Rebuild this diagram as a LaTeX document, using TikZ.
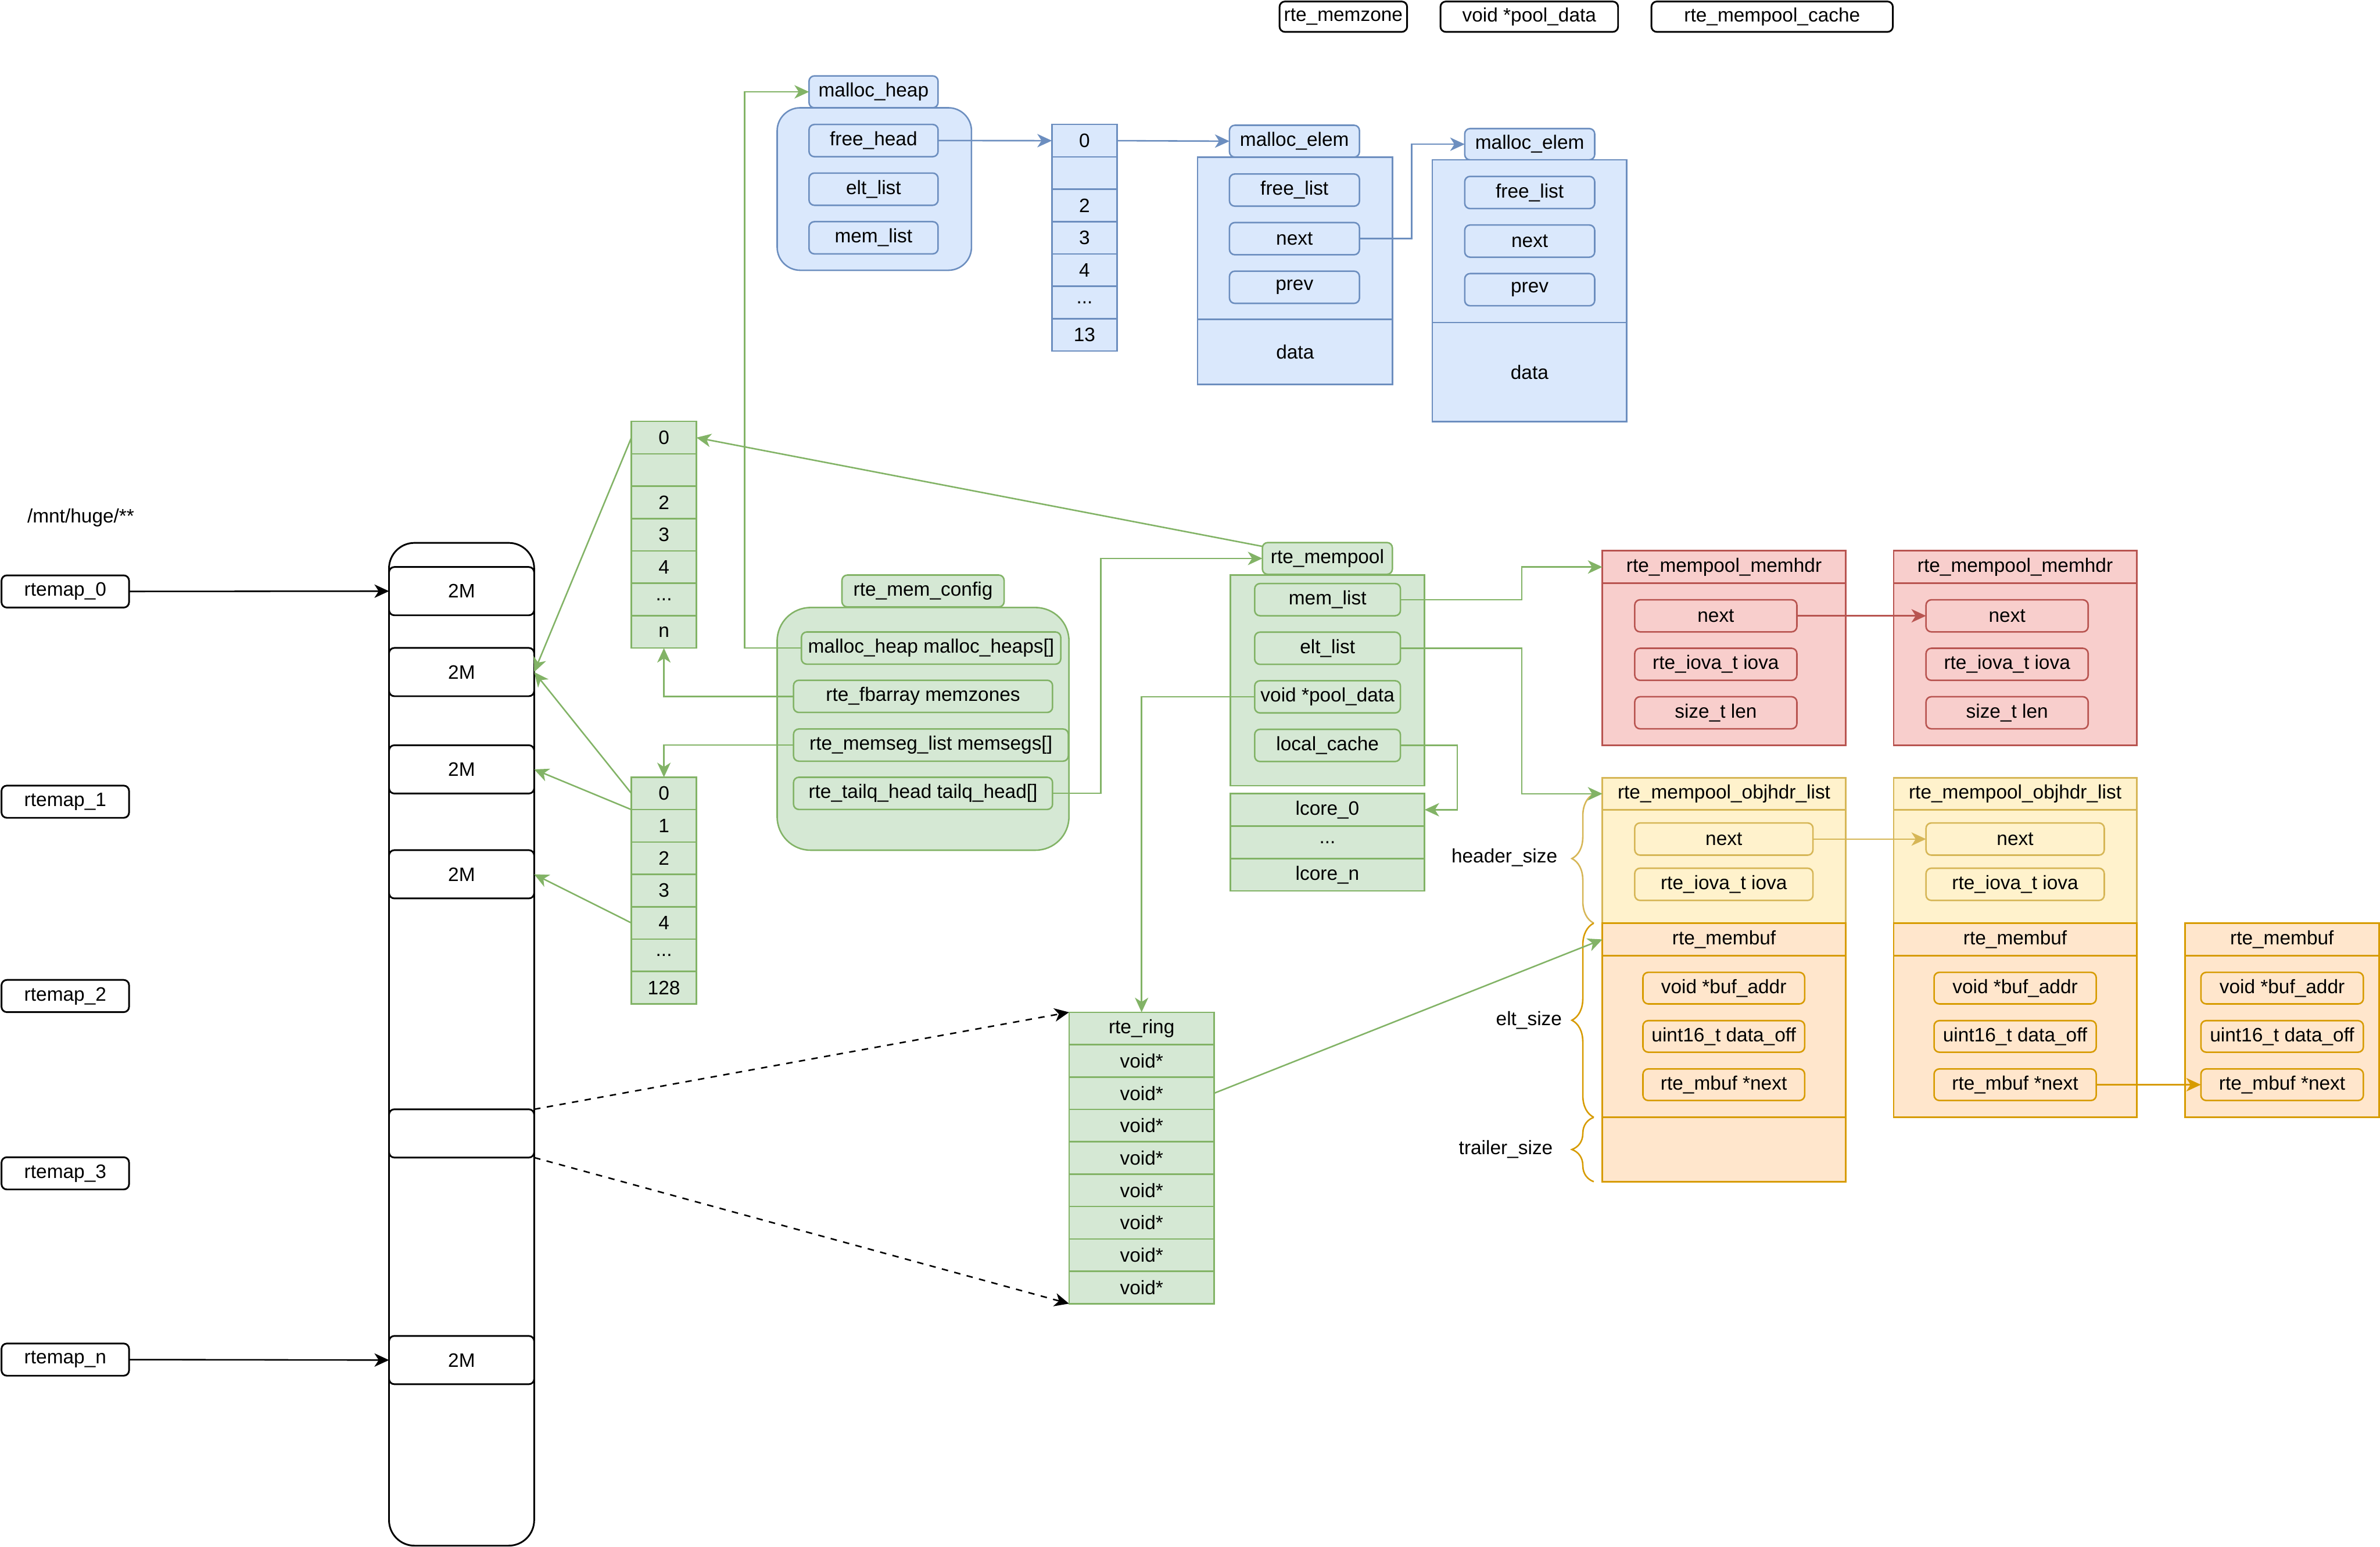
\documentclass[tikz,border=0pt]{standalone}
\usepackage{fontspec}
\setmainfont{Liberation Sans}
\usetikzlibrary{arrows.meta,positioning,calc,decorations.pathreplacing}
\definecolor{HeapFill}{HTML}{DAE8FC}
\definecolor{HeapLine}{HTML}{6C8EBF}
\definecolor{CfgFill}{HTML}{D5E8D4}
\definecolor{CfgLine}{HTML}{82B366}
\definecolor{HdrFill}{HTML}{F8CECC}
\definecolor{HdrLine}{HTML}{B85450}
\definecolor{ObjFill}{HTML}{FFF2CC}
\definecolor{ObjLine}{HTML}{D6B656}
\definecolor{BufFill}{HTML}{FFE6CC}
\definecolor{BufLine}{HTML}{D79B00}
\tikzset{
  lbl/.style={inner sep=0pt,outer sep=0pt,align=center,font=\fontsize{9.1}{11}\selectfont},
  fld/.style={lbl,anchor=north west,rounded corners=2.5pt,line width=.7pt,minimum height=.53cm},
  slot/.style={lbl,draw,line width=.7pt,minimum height=.533cm},
  shell/.style={lbl,anchor=north west,line width=.7pt},
  blu/.style={draw=HeapLine,fill=HeapFill},
  grn/.style={draw=CfgLine,fill=CfgFill},
  pnk/.style={draw=HdrLine,fill=HdrFill},
  ylw/.style={draw=ObjLine,fill=ObjFill},
  org/.style={draw=BufLine,fill=BufFill},
  blk/.style={draw=black,fill=white,line width=.8pt},
  ptr/.style={-{Stealth[length=2.4mm,width=2.2mm,inset=.7mm]},line width=.7pt},
  sizebrace/.style={decorate,decoration={brace,amplitude=.36cm},line width=.7pt}
}
\begin{document}
\begin{tikzpicture}[x=.025cm,y=-.025cm]
\useasboundingbox (0,0) rectangle (1568,1019);

\node[fld,blk,minimum width=2.1cm,minimum height=.5cm] (kzone) at (843,1) {rte\_memzone};
\node[fld,blk,minimum width=2.925cm,minimum height=.5cm] (kpool) at (949,1) {void *pool\_data};
\node[fld,blk,minimum width=3.975cm,minimum height=.5cm] (kcache) at (1088,1) {rte\_mempool\_cache};

\node[fld,blu,minimum width=2.125cm,minimum height=.525cm] (heap) at (533,50) {malloc\_heap};
\node[shell,blu,rounded corners=.38cm,minimum width=3.2cm,minimum height=2.675cm] (heapbox) at (512,71) {};
\node[fld,blu,minimum width=2.125cm] (freehead) at (533,82) {free\_head};
\node[fld,blu,minimum width=2.125cm,below=.27cm of freehead] (eltlist) {elt\_list};
\node[fld,blu,minimum width=2.125cm,below=.27cm of eltlist] (memlist) {mem\_list};

\node[slot,blu,anchor=north west,minimum width=1.075cm] (fl0) at (693,82) {0};
\node[slot,blu,minimum width=1.075cm,below=0pt of fl0] (fl1) {};
\node[slot,blu,minimum width=1.075cm,below=0pt of fl1] (fl2) {2};
\node[slot,blu,minimum width=1.075cm,below=0pt of fl2] (fl3) {3};
\node[slot,blu,minimum width=1.075cm,below=0pt of fl3] (fl4) {4};
\node[slot,blu,minimum width=1.075cm,below=0pt of fl4] (fl5) {...};
\node[slot,blu,minimum width=1.075cm,below=0pt of fl5] (fl6) {13};

\node[fld,blu,minimum width=2.14cm,minimum height=.525cm] (elemA) at (810,82.5) {malloc\_elem};
\node[shell,blu,minimum width=3.21cm,minimum height=2.67cm] (elemAhdr) at (789,103.5) {};
\node[shell,blu,minimum width=3.21cm,minimum height=1.07cm,below=0pt of elemAhdr] (elemAdata) {data};
\node[fld,blu,minimum width=2.14cm] (elemAfree) at (810,114.6) {free\_list};
\node[fld,blu,minimum width=2.14cm,below=.27cm of elemAfree] (elemAnext) {next};
\node[fld,blu,minimum width=2.14cm,below=.27cm of elemAnext] (elemAprev) {prev};

\node[fld,blu,minimum width=2.14cm,minimum height=.515cm] (elemB) at (965,84.7) {malloc\_elem};
\node[shell,blu,minimum width=3.2cm,minimum height=2.68cm] (elemBhdr) at (943.7,105.3) {};
\node[shell,blu,minimum width=3.2cm,minimum height=1.63cm,below=0pt of elemBhdr] (elemBdata) {data};
\node[fld,blu,minimum width=2.14cm] (elemBfree) at (965,116.2) {free\_list};
\node[fld,blu,minimum width=2.14cm,below=.27cm of elemBfree] (elemBnext) {next};
\node[fld,blu,minimum width=2.14cm,below=.27cm of elemBnext] (elemBprev) {prev};

\node[lbl,anchor=west] (hugedir) at (18,341) {/mnt/huge/**};
\node[fld,blk,minimum width=2.1cm] (map0) at (1,379) {rtemap\_0};
\node[fld,blk,minimum width=2.1cm] (map1) at (1,517.5) {rtemap\_1};
\node[fld,blk,minimum width=2.1cm] (map2) at (1,645.5) {rtemap\_2};
\node[fld,blk,minimum width=2.1cm] (map3) at (1,762.3) {rtemap\_3};
\node[fld,blk,minimum width=2.1cm] (mapn) at (1,885) {rtemap\_n};
\node[shell,blk,rounded corners=.42cm,minimum width=2.39cm,minimum height=16.51cm] (hugemem) at (256.3,357.6) {};
\node[fld,blk,minimum width=2.39cm,minimum height=.795cm] (pg0) at (256.3,373.5) {2M};
\node[fld,blk,minimum width=2.39cm,minimum height=.795cm] (pg1) at (256.3,426.8) {2M};
\node[fld,blk,minimum width=2.39cm,minimum height=.795cm] (pg2) at (256.3,490.9) {2M};
\node[fld,blk,minimum width=2.39cm,minimum height=.795cm] (pg3) at (256.3,560) {2M};
\node[fld,blk,minimum width=2.39cm,minimum height=.795cm] (pg4) at (256.3,730.7) {};
\node[fld,blk,minimum width=2.39cm,minimum height=.795cm] (pg5) at (256.3,880) {2M};

\node[slot,grn,anchor=north west,minimum width=1.07cm] (zn0) at (416,277.6) {0};
\node[slot,grn,minimum width=1.07cm,below=0pt of zn0] (zn1) {};
\node[slot,grn,minimum width=1.07cm,below=0pt of zn1] (zn2) {2};
\node[slot,grn,minimum width=1.07cm,below=0pt of zn2] (zn3) {3};
\node[slot,grn,minimum width=1.07cm,below=0pt of zn3] (zn4) {4};
\node[slot,grn,minimum width=1.07cm,below=0pt of zn4] (zn5) {...};
\node[slot,grn,minimum width=1.07cm,below=0pt of zn5] (zn6) {n};

\node[slot,grn,anchor=north west,minimum width=1.07cm] (sg0) at (416,512) {0};
\node[slot,grn,minimum width=1.07cm,below=0pt of sg0] (sg1) {1};
\node[slot,grn,minimum width=1.07cm,below=0pt of sg1] (sg2) {2};
\node[slot,grn,minimum width=1.07cm,below=0pt of sg2] (sg3) {3};
\node[slot,grn,minimum width=1.07cm,below=0pt of sg3] (sg4) {4};
\node[slot,grn,minimum width=1.07cm,below=0pt of sg4] (sg5) {...};
\node[slot,grn,minimum width=1.07cm,below=0pt of sg5] (sg6) {128};

\node[fld,grn,minimum width=2.67cm,minimum height=.525cm] (memcfg) at (554.7,378.8) {rte\_mem\_config};
\node[shell,grn,rounded corners=.55cm,minimum width=4.805cm,minimum height=3.995cm] (memcfgbox) at (512,400.2) {};
\node[fld,grn,minimum width=4.27cm] (heaps) at (528,416.3) {malloc\_heap malloc\_heaps[]};
\node[fld,grn,minimum width=4.265cm] (zones) at (522.8,448.1) {rte\_fbarray memzones};
\node[fld,grn,minimum width=4.525cm] (segs) at (522.8,480.2) {rte\_memseg\_list memsegs[]};
\node[fld,grn,minimum width=4.265cm] (tailq) at (522.8,512) {rte\_tailq\_head tailq\_head[]};

\node[fld,grn,minimum width=2.14cm,minimum height=.523cm] (mempool) at (831.7,357.4) {rte\_mempool};
\node[shell,grn,minimum width=3.2cm,minimum height=3.47cm] (mempoolbox) at (810.5,378.8) {};
\node[fld,grn,minimum width=2.4cm] (mpmem) at (826.6,384.4) {mem\_list};
\node[fld,grn,minimum width=2.4cm,below=.27cm of mpmem] (mpelt) {elt\_list};
\node[fld,grn,minimum width=2.4cm,below=.27cm of mpelt] (mpdata) {void *pool\_data};
\node[fld,grn,minimum width=2.4cm,below=.27cm of mpdata] (mpcache) {local\_cache};
\node[slot,grn,anchor=north west,minimum width=3.2cm,minimum height=.535cm] (lcore0) at (810.5,522.7) {lcore\_0};
\node[slot,grn,minimum width=3.2cm,minimum height=.535cm,below=0pt of lcore0] (lcoremid) {...};
\node[slot,grn,minimum width=3.2cm,minimum height=.535cm,below=0pt of lcoremid] (lcoren) {lcore\_n};

\node[slot,grn,anchor=north west,minimum width=2.39cm] (ring) at (704.3,666.8) {rte\_ring};
\node[slot,grn,minimum width=2.39cm,below=0pt of ring] (ring1) {void*};
\node[slot,grn,minimum width=2.39cm,below=0pt of ring1] (ring2) {void*};
\node[slot,grn,minimum width=2.39cm,below=0pt of ring2] (ring3) {void*};
\node[slot,grn,minimum width=2.39cm,below=0pt of ring3] (ring4) {void*};
\node[slot,grn,minimum width=2.39cm,below=0pt of ring4] (ring5) {void*};
\node[slot,grn,minimum width=2.39cm,below=0pt of ring5] (ring6) {void*};
\node[slot,grn,minimum width=2.39cm,below=0pt of ring6] (ring7) {void*};
\node[slot,grn,minimum width=2.39cm,below=0pt of ring7] (ring8) {void*};

\node[shell,pnk,minimum width=4.005cm,minimum height=.535cm] (memhdrA) at (1055.7,362.8) {rte\_mempool\_memhdr};
\node[shell,pnk,minimum width=4.005cm,minimum height=2.668cm,below=0pt of memhdrA] (memhdrAbody) {};
\node[fld,pnk,minimum width=2.67cm,minimum height=.528cm] (memhdrAnext) at (1077,395.1) {next};
\node[fld,pnk,minimum width=2.67cm,minimum height=.528cm,below=.27cm of memhdrAnext] (memhdrAiova) {rte\_iova\_t iova};
\node[fld,pnk,minimum width=2.67cm,minimum height=.528cm,below=.27cm of memhdrAiova] (memhdrAlen) {size\_t len};

\node[shell,pnk,minimum width=4.005cm,minimum height=.535cm] (memhdrB) at (1247.5,362.8) {rte\_mempool\_memhdr};
\node[shell,pnk,minimum width=4.005cm,minimum height=2.668cm,below=0pt of memhdrB] (memhdrBbody) {};
\node[fld,pnk,minimum width=2.67cm,minimum height=.528cm] (memhdrBnext) at (1268.9,395.1) {next};
\node[fld,pnk,minimum width=2.67cm,minimum height=.528cm,below=.27cm of memhdrBnext] (memhdrBiova) {rte\_iova\_t iova};
\node[fld,pnk,minimum width=2.67cm,minimum height=.528cm,below=.27cm of memhdrBiova] (memhdrBlen) {size\_t len};

\node[shell,ylw,minimum width=4.005cm,minimum height=.528cm] (objA) at (1055.7,512.3) {rte\_mempool\_objhdr\_list};
\node[shell,ylw,minimum width=4.005cm,minimum height=1.868cm,below=0pt of objA] (objAbody) {};
\node[fld,ylw,minimum width=2.935cm] (objAnext) at (1077,542.1) {next};
\node[fld,ylw,minimum width=2.935cm,below=.215cm of objAnext] (objAiova) {rte\_iova\_t iova};

\node[shell,ylw,minimum width=4.005cm,minimum height=.528cm] (objB) at (1247.5,512.3) {rte\_mempool\_objhdr\_list};
\node[shell,ylw,minimum width=4.005cm,minimum height=1.868cm,below=0pt of objB] (objBbody) {};
\node[fld,ylw,minimum width=2.935cm] (objBnext) at (1268.9,542.1) {next};
\node[fld,ylw,minimum width=2.935cm,below=.215cm of objBnext] (objBiova) {rte\_iova\_t iova};

\node[shell,org,minimum width=4.005cm,minimum height=.535cm] (bufA) at (1055.7,608.1) {rte\_membuf};
\node[shell,org,minimum width=4.005cm,minimum height=2.663cm,below=0pt of bufA] (bufAbody) {};
\node[shell,org,minimum width=4.005cm,minimum height=1.06cm,below=0pt of bufAbody] (bufAtail) {};
\node[fld,org,minimum width=2.663cm,minimum height=.52cm] (bufAaddr) at (1082.4,640.5) {void *buf\_addr};
\node[fld,org,minimum width=2.663cm,minimum height=.52cm,below=.275cm of bufAaddr] (bufAoff) {uint16\_t data\_off};
\node[fld,org,minimum width=2.663cm,minimum height=.52cm,below=.275cm of bufAoff] (bufAnext) {rte\_mbuf *next};

\node[shell,org,minimum width=4.005cm,minimum height=.535cm] (bufB) at (1247.5,608.1) {rte\_membuf};
\node[shell,org,minimum width=4.005cm,minimum height=2.663cm,below=0pt of bufB] (bufBbody) {};
\node[fld,org,minimum width=2.67cm,minimum height=.52cm] (bufBaddr) at (1274.2,640.5) {void *buf\_addr};
\node[fld,org,minimum width=2.67cm,minimum height=.52cm,below=.275cm of bufBaddr] (bufBoff) {uint16\_t data\_off};
\node[fld,org,minimum width=2.67cm,minimum height=.52cm,below=.275cm of bufBoff] (bufBnext) {rte\_mbuf *next};

\node[shell,org,minimum width=3.195cm,minimum height=.535cm] (bufC) at (1439.5,608.1) {rte\_membuf};
\node[shell,org,minimum width=3.195cm,minimum height=2.663cm,below=0pt of bufC] (bufCbody) {};
\node[fld,org,minimum width=2.675cm,minimum height=.52cm] (bufCaddr) at (1450,640.5) {void *buf\_addr};
\node[fld,org,minimum width=2.675cm,minimum height=.52cm,below=.275cm of bufCaddr] (bufCoff) {uint16\_t data\_off};
\node[fld,org,minimum width=2.675cm,minimum height=.52cm,below=.275cm of bufCoff] (bufCnext) {rte\_mbuf *next};

\draw[sizebrace,ObjLine] (1050,608.1) -- (1050,523);
\draw[sizebrace,BufLine] (1050,736) -- (1050,608.1);
\draw[sizebrace,BufLine] (1050,778.4) -- (1050,736);
\node[lbl,anchor=east] (hdrsize) at (1026,565) {header\_size};
\node[lbl,anchor=east] (eltsize) at (1029,672) {elt\_size};
\node[lbl,anchor=east] (tailsize) at (1023,757) {trailer\_size};

\draw[ptr] (map0.east) -- (pg0.west);
\draw[ptr] (mapn.east) -- (pg5.west);
\draw[ptr,dashed] (pg4.north east) -- (ring.north west);
\draw[ptr,dashed] (pg4.south east) -- (ring8.south west);
\draw[ptr,CfgLine] (zn0.west) -- (pg1.east);
\draw[ptr,CfgLine] (sg0.west) -- (pg1.east);
\draw[ptr,CfgLine] (sg1.north west) -- (pg2.east);
\draw[ptr,CfgLine] (sg4.west) -- (pg3.east);
\draw[ptr,CfgLine] (zones.west) -| (zn6.south);
\draw[ptr,CfgLine] (segs.west) -| (sg0.north);
\draw[ptr,CfgLine] (heaps.west) -- ++(-37.5,0) |- (heap.west);
\draw[ptr,CfgLine] (tailq.east) -- ++(31.8,0) |- (mempool.west);
\draw[ptr,CfgLine] ($(mempool.north west)!.12!(mempool.south west)$) -- (zn0.east);
\draw[ptr,CfgLine] (mpcache.east) -- ++(37.4,0) |- (lcore0.east);
\draw[ptr,CfgLine] (mpdata.west) -| (ring.north);
\draw[ptr,CfgLine] (mpmem.east) -- ++(80,0) |- (memhdrA.west);
\draw[ptr,CfgLine] (mpelt.east) -- ++(80,0) |- (objA.west);
\draw[ptr,CfgLine] (ring2.east) -- (bufA.west);
\draw[ptr,HeapLine] (freehead.east) -- (fl0.west);
\draw[ptr,HeapLine] (fl0.east) -- (elemA.west);
\draw[ptr,HeapLine] (elemAnext.east) -- ++(34.5,0) |- (elemB.west);
\draw[ptr,HdrLine] (memhdrAnext.east) -- (memhdrBnext.west);
\draw[ptr,ObjLine] (objAnext.east) -- (objBnext.west);
\draw[ptr,BufLine] (bufBnext.east) -- (bufCnext.west);
\end{tikzpicture}
\end{document}
